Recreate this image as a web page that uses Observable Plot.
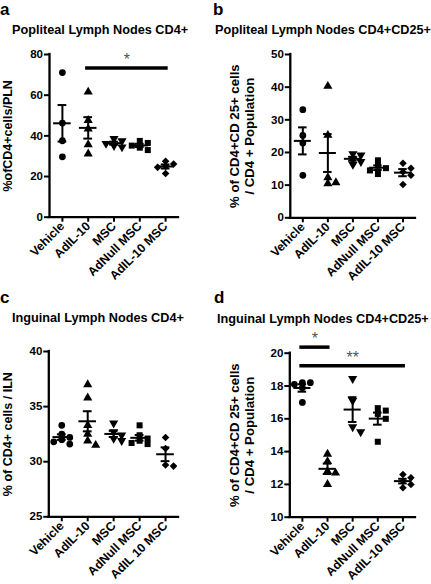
<!DOCTYPE html>
<html><head><meta charset="utf-8">
<script src="https://cdn.jsdelivr.net/npm/d3@7"></script>
<script src="https://cdn.jsdelivr.net/npm/@observablehq/plot@0.6"></script>
<style>
body{margin:0;background:#fff;}
#root{position:relative;width:431px;height:584px;overflow:hidden;font-family:"Liberation Sans",Arial,Helvetica,sans-serif;color:#000;}
.lt{position:absolute;font-weight:bold;font-size:17px;line-height:1;}
.tt{position:absolute;font-weight:bold;font-size:12.7px;white-space:nowrap;line-height:1;}
.pl{position:absolute;}
.pl svg{overflow:visible;}
.pl svg [aria-label$="tick label"] text{font-weight:bold;}
</style></head><body><div id="root"></div>
<script>
// categories
const groups = ["Vehicle", "AdIL-10", "MSC", "AdNull MSC", "AdIL-10 MSC"];
const labelsABD = ["Vehicle", "AdIL-10", "MSC", "AdNull MSC", "AdIL-10 MSC"];
const labelsC = ["Vehicle", "AdIL-10", "MSC", "AdNull MSC", "AdIL 10 MSC"];
const symbols = ["circle", "triangle", "triangle", "square", "diamond2"];
const symbolRotate = [0, 0, 180, 0, 0];

// panel a: Popliteal Lymph Nodes CD4+
const aVehicle = [71.1, 46.3, 37.6, 29.7];
const aAdIL10 = [61.6, 47.6, 43.5, 35.7, 31.2];
const aMSC = [38.6, 37.5, 36.2, 35.2, 34.5];
const aAdNull = [37.5, 36.5, 35.2, 34.2, 33.0];
const aAdIL10MSC = [27.5, 26.2, 25.0, 24.5, 21.5];
const aTicks = [0, 20, 40, 60, 80];
const aSig = [{from: "AdIL-10", to: "AdIL-10 MSC", y: 73.4, label: "*"}];

// panel b: Popliteal Lymph Nodes CD4+CD25+
const bVehicle = [33.1, 25.2, 22.9, 13.0];
const bAdIL10 = [40.3, 25.3, 12.3, 10.8, 10.5];
const bMSC = [19.6, 19.2, 18.0, 17.2, 16.3];
const bAdNull = [17.6, 16.0, 15.2, 14.5, 13.4];
const bAdIL10MSC = [16.7, 15.2, 14.0, 13.0, 10.2];
const bTicks = [0, 10, 20, 30, 40, 50];
const bSig = [];

// panel c: Inguinal Lymph Nodes CD4+
const cVehicle = [33.3, 32.5, 32.2, 32.0, 31.8, 31.6];
const cAdIL10 = [37.0, 35.8, 33.3, 32.5, 31.9, 31.5];
const cMSC = [33.5, 32.7, 32.4, 32.1, 31.9];
const cAdNull = [33.3, 32.4, 32.1, 31.9, 31.7, 31.6];
const cAdIL10MSC = [32.2, 31.2, 29.7, 29.6];
const cTicks = [25, 30, 35, 40];
const cSig = [];

// panel d: Inguinal Lymph Nodes CD4+CD25+
const dVehicle = [18.2, 18.2, 18.1, 17.9, 17.0];
const dAdIL10 = [13.85, 13.4, 12.8, 12.7, 12.0];
const dMSC = [18.45, 17.1, 15.5, 15.2];
const dAdNull = [16.65, 16.5, 16.3, 16.0, 14.6];
const dAdIL10MSC = [12.6, 12.4, 12.2, 12.0, 11.8];
const dTicks = [10, 12, 14, 16, 18, 20];
const dSig = [
  {from: "Vehicle", to: "AdIL-10", y: 20.37, label: "*"},
  {from: "Vehicle", to: "AdIL-10 MSC", y: 19.23, label: "**"}
];

const panels = [
  {letter: "a", title: "Popliteal Lymph Nodes CD4+", ylabel: "%ofCD4+cells/PLN", yfs: 12.5, ylx: 6.5,
   series: [aVehicle, aAdIL10, aMSC, aAdNull, aAdIL10MSC], ticks: aTicks, sig: aSig, labels: labelsABD,
   left: 0, top: 0, width: 215, height: 290, mt: 54, mb: 73.3, ml: 49, mr: 37,
   lx: 0, ly: 1, tx: 12, ty: 23.5},
  {letter: "b", title: "Popliteal Lymph Nodes CD4+CD25+", ylabel: "% of CD4+CD 25+ cells\n/ CD4 + Population", yfs: 13.2, ylx: 241,
   series: [bVehicle, bAdIL10, bMSC, bAdNull, bAdIL10MSC], ticks: bTicks, sig: bSig, labels: labelsABD,
   left: 215, top: 0, width: 216, height: 290, mt: 54, mb: 72.7, ml: 74.8, mr: 16,
   lx: 213, ly: 1, tx: 215, ty: 23.5},
  {letter: "c", title: "Inguinal Lymph Nodes CD4+", ylabel: "% of CD4+ cells / ILN", yfs: 12.5, ylx: 6.5,
   series: [cVehicle, cAdIL10, cMSC, cAdNull, cAdIL10MSC], ticks: cTicks, sig: cSig, labels: labelsC,
   left: 0, top: 290, width: 215, height: 294, mt: 61, mb: 67.7, ml: 48.3, mr: 37,
   lx: 0, ly: 289, tx: 12, ty: 312},
  {letter: "d", title: "Inguinal Lymph Nodes CD4+CD25+", ylabel: "% of CD4+CD 25+ cells\n/ CD4 + Population", yfs: 13.2, ylx: 241,
   series: [dVehicle, dAdIL10, dMSC, dAdNull, dAdIL10MSC], ticks: dTicks, sig: dSig, labels: labelsABD,
   left: 215, top: 290, width: 216, height: 294, mt: 62.7, mb: 67.3, ml: 74.3, mr: 16,
   lx: 214, ly: 289, tx: 217, ty: 312.5}
];

const root = document.getElementById("root");
const font = '"Liberation Sans", Arial, Helvetica, sans-serif';

for (const p of panels) {
  const ydom = [d3.min(p.ticks), d3.max(p.ticks)];
  const fh = p.height - p.mt - p.mb;
  const fw = p.width - p.ml - p.mr;
  const ky = fh / (ydom[1] - ydom[0]);   // px per y unit
  const kx = fw / groups.length;          // px per category
  const dots = [];
  const stats = [];
  p.series.forEach((vals, i) => {
    // simple swarm layout to separate overlapping points
    const placed = [];
    const sorted = vals.slice().sort((a, b) => b - a);
    for (const v of sorted) {
      const py = v * ky;
      let ox = 0;
      for (const c of [0, 1, -1, 2, -2, 3, -3]) {
        const cx = c * 4;
        if (!placed.some(q => Math.abs(q.py - py) < 5 && Math.abs(q.ox - cx) < 5)) { ox = cx; break; }
      }
      placed.push({py, ox});
      dots.push({i, x: i + ox / kx, v, symbol: symbols[i], rot: symbolRotate[i]});
    }
    const m = d3.mean(vals);
    const sem = d3.deviation(vals) / Math.sqrt(vals.length);
    stats.push({i, mean: m, lo: m - sem, hi: m + sem});
  });
  const sig = p.sig.map(s => ({x1: groups.indexOf(s.from) - 0.1, x2: groups.indexOf(s.to) + 0.1, y: s.y, label: s.label}));

  const chart = Plot.plot({
    width: p.width, height: p.height,
    marginTop: p.mt, marginBottom: p.mb, marginLeft: p.ml, marginRight: p.mr,
    style: {fontFamily: font, color: "#000", background: "transparent"},
    x: {domain: [-0.5, groups.length - 0.5]},
    y: {domain: ydom},
    marks: [
      Plot.axisY({ticks: p.ticks, tickSize: 5, tickPadding: 1.5, fontSize: 11.5, fontWeight: "bold", strokeWidth: 2, label: null}),
      Plot.axisX({ticks: d3.range(groups.length), tickFormat: i => p.labels[i], tickRotate: -45, tickSize: 5, tickPadding: 2, fontSize: 12.3, fontWeight: "bold", strokeWidth: 2, label: null}),
      Plot.ruleX([-0.5], {strokeWidth: 2.3, strokeLinecap: "square"}),
      Plot.ruleY([ydom[0]], {strokeWidth: 2.3, strokeLinecap: "square"}),
      Plot.dot(dots, {x: "x", y: "v", symbol: "symbol", rotate: "rot", r: 3.4, fill: "#000", stroke: "none"}),
      Plot.ruleY(stats, {y: "mean", x1: d => d.i - 0.34, x2: d => d.i + 0.34, strokeWidth: 2}),
      Plot.ruleX(stats, {x: "i", y1: "lo", y2: "hi", strokeWidth: 2}),
      Plot.ruleY(stats, {y: "hi", x1: d => d.i - 0.17, x2: d => d.i + 0.17, strokeWidth: 2}),
      Plot.ruleY(stats, {y: "lo", x1: d => d.i - 0.17, x2: d => d.i + 0.17, strokeWidth: 2}),
      Plot.ruleY(sig, {y: "y", x1: "x1", x2: "x2", strokeWidth: 3.5}),
      Plot.text(sig, {x: d => (d.x1 + d.x2) / 2, y: "y", text: "label", dy: -8, fontSize: 16, fill: "#555", lineAnchor: "middle"}),
      Plot.text([p.ylabel], {frameAnchor: "left", textAnchor: "middle", rotate: -90, dx: p.ylx - p.left - p.ml, fontSize: p.yfs, fontWeight: "bold", lineAnchor: "middle", lineHeight: 1.2})
    ]
  });
  const holder = document.createElement("div");
  holder.className = "pl";
  holder.style.left = p.left + "px";
  holder.style.top = p.top + "px";
  holder.appendChild(chart);
  root.appendChild(holder);

  const lt = document.createElement("div");
  lt.className = "lt";
  lt.textContent = p.letter;
  lt.style.left = p.lx + "px";
  lt.style.top = p.ly + "px";
  root.appendChild(lt);

  const tt = document.createElement("div");
  tt.className = "tt";
  tt.textContent = p.title;
  tt.style.left = p.tx + "px";
  tt.style.top = p.ty + "px";
  root.appendChild(tt);
}
</script>
</body></html>
